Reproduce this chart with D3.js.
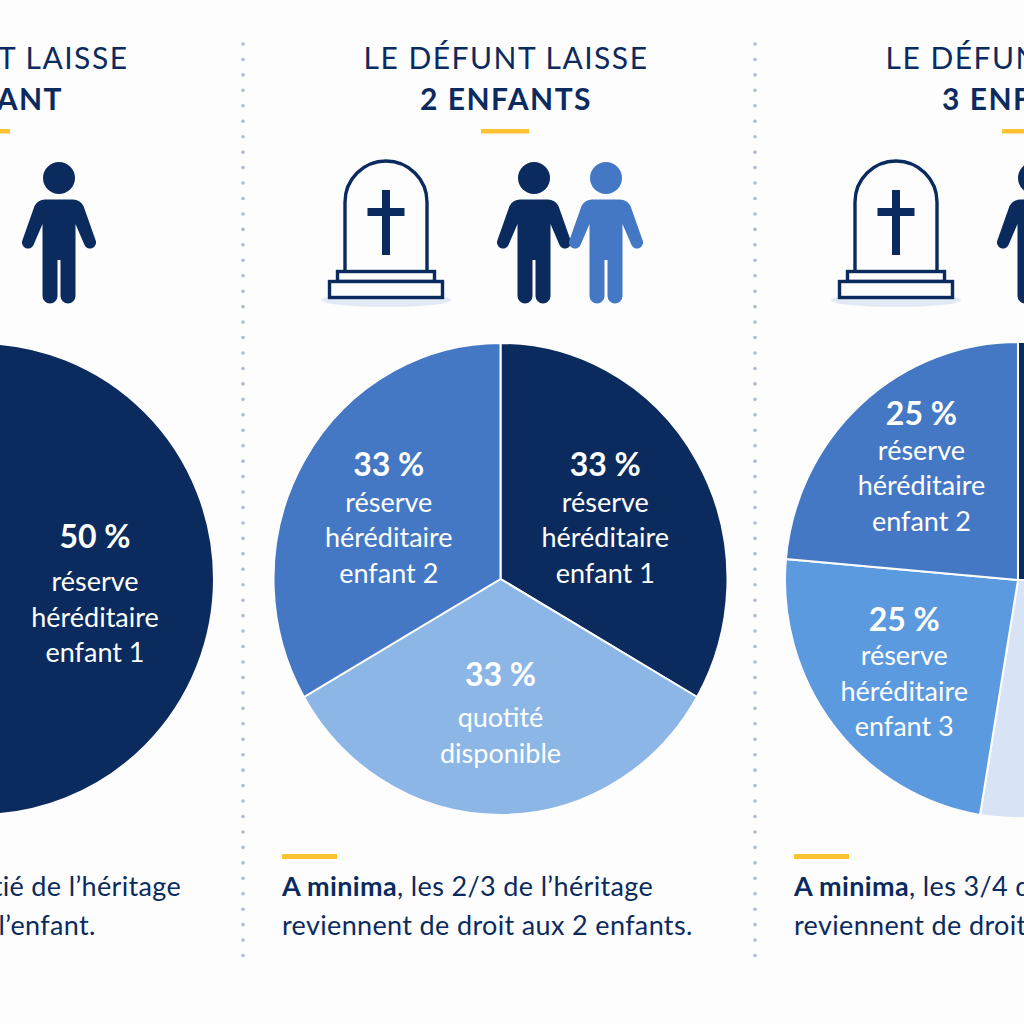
<!DOCTYPE html>
<html>
<head>
<meta charset="utf-8">
<script src="https://cdn.jsdelivr.net/npm/d3@7"></script>
<style>
  html, body { margin: 0; padding: 0; background: #fdfdfe; overflow: hidden; }
  svg { display: block; }
  text { font-family: Lato, "Open Sans", sans-serif; }
</style>
</head>
<body>
<script>
// Values
var title_top = ['LE DÉFUNT LAISSE', 'LE DÉFUNT LAISSE', 'LE DÉFUNT LAISSE'];
var title_bottom = ['1 ENFANT', '2 ENFANTS', '3 ENFANTS'];

// Slice sizes as drawn (the third pie is not cut in exact quarters)
var shares_1 = [50, 50];
var shares_2 = [33, 33, 33];
var shares_3 = [25, 27.6, 23.8, 23.6];

var percents_1 = ['50 %', '50 %'];
var percents_2 = ['33 %', '33 %', '33 %'];
var percents_3 = ['25 %', '25 %', '25 %', '25 %'];

var captions_1 = ['réserve|héréditaire|enfant 1', 'quotité|disponible'];
var captions_2 = ['réserve|héréditaire|enfant 1', 'quotité|disponible', 'réserve|héréditaire|enfant 2'];
var captions_3 = ['réserve|héréditaire|enfant 1', 'quotité|disponible', 'réserve|héréditaire|enfant 3', 'réserve|héréditaire|enfant 2'];

var colors_1 = ['#0b2b5e', '#8cb6e6'];
var colors_2 = ['#0b2b5e', '#8cb6e6', '#4478c4'];
var colors_3 = ['#0b2b5e', '#d8e4f5', '#5b9adf', '#4478c4'];

var footer_bold = 'A minima';
var footer_rest = [', la moitié de l’héritage', ', les 2/3 de l’héritage', ', les 3/4 de l’héritage'];
var footer_second = ['revient de droit à l’enfant.', 'reviennent de droit aux 2 enfants.', 'reviennent de droit aux 3 enfants.'];

// Layout of the three columns
var svg_size = 1024;
var navy = '#0b2b5e';
var yellow = '#fbc232';
var pies = [
  { cx: -21, cy: 579, rx: 235, ry: 236, label_r: [116, 116], shift: [12, 0], gap: [7, 5] },
  { cx: 500.5, cy: 579, rx: 227, ry: 236, label_r: [121, 135, 129], shift: [0, 0, 4], gap: [0, 5, 0] },
  { cx: 1018, cy: 580, rx: 233, ry: 238, label_r: [150, 150, 144, 143], shift: [0, 0, 6, -6.5], gap: [0, 5, -2, -1.5] }
];
var title_x = [-14, 506, 1028];
var rule_x = [-38, 481, 1002];
var footer_x = [-209, 282, 794];
var footer_second_x = [-217, 282, 794];
var tomb_x = [-136, 386, 896];
var people_x = [[59], [534, 606], [1034, 1106]];
var people_colors = [[navy], [navy, '#4478c4'], [navy, '#4478c4']];
var divider_x = [243, 755];

var svg = d3.select('body').append('svg')
  .attr('width', svg_size)
  .attr('height', svg_size);

svg.append('rect')
  .attr('width', svg_size)
  .attr('height', svg_size)
  .attr('fill', '#fdfdfe');

// Dotted column dividers
divider_x.forEach(function(x) {
  svg.selectAll(null)
    .data(d3.range(44, 965, 15.45))
    .enter()
    .append('circle')
    .attr('cx', x)
    .attr('cy', function(d) { return d; })
    .attr('r', 1.8)
    .attr('fill', '#aebbd6');
});

// Person silhouette, drawn around x = 0 with the head centre at y = 0
var person_path = 'M0,21.5 L14,21.5 Q21,21.5 24.5,28 L36.5,62 A6,6 0 0 1 25.5,67 L16.5,46 L16.5,118 ' +
  'A7.5,7.5 0 0 1 1.5,118 L1.5,82 L-1.5,82 L-1.5,118 A7.5,7.5 0 0 1 -16.5,118 L-16.5,46 L-25.5,67 ' +
  'A6,6 0 0 1 -36.5,62 L-24.5,28 Q-21,21.5 -14,21.5 Z';

function drawPerson(x, color) {
  var g = svg.append('g').attr('transform', 'translate(' + x + ',178)');
  g.append('circle').attr('r', 16).attr('fill', color);
  g.append('path').attr('d', person_path).attr('fill', color);
}

// Gravestone with a cross, drawn around x = 0
function drawTomb(x) {
  var g = svg.append('g').attr('transform', 'translate(' + x + ',0)');
  g.append('ellipse').attr('cy', 300).attr('rx', 65).attr('ry', 7).attr('fill', '#e3eaf6');
  g.append('path')
    .attr('d', 'M-41,271 L-41,202 A41,41 0 0 1 41,202 L41,271')
    .attr('fill', '#fdfdfe').attr('stroke', navy).attr('stroke-width', 3.4);
  g.append('rect').attr('x', -48.5).attr('y', 271.5).attr('width', 97).attr('height', 10)
    .attr('fill', '#fdfdfe').attr('stroke', navy).attr('stroke-width', 3.4);
  g.append('rect').attr('x', -56.5).attr('y', 281.5).attr('width', 113).attr('height', 16)
    .attr('fill', '#fdfdfe').attr('stroke', navy).attr('stroke-width', 3.4);
  g.append('rect').attr('x', -4).attr('y', 190).attr('width', 8).attr('height', 65).attr('fill', navy);
  g.append('rect').attr('x', -18.5).attr('y', 208).attr('width', 37).attr('height', 8).attr('fill', navy);
}

// One pie with its labels
function drawPie(index, shares, percents, captions, colors) {
  var p = pies[index];
  var pie = d3.pie().sort(null).value(function(d) { return d; });
  var arc = d3.arc().innerRadius(0).outerRadius(1);
  var slices = pie(shares);

  var g = svg.append('g')
    .attr('transform', 'translate(' + p.cx + ',' + p.cy + ') scale(' + p.rx + ',' + p.ry + ')');
  g.selectAll('path')
    .data(slices)
    .enter()
    .append('path')
    .attr('d', arc)
    .attr('fill', function(d, i) { return colors[i]; })
    .attr('stroke', '#fdfdfe')
    .attr('stroke-width', 2)
    .attr('vector-effect', 'non-scaling-stroke');

  slices.forEach(function(s, i) {
    var mid = (s.startAngle + s.endAngle) / 2;
    var x = p.cx + p.label_r[i] * Math.sin(mid);
    var y = p.cy - p.label_r[i] * Math.cos(mid) + p.shift[i];
    var lines = captions[i].split('|');
    // Block of text centred on the slice anchor point
    var top = y - (lines.length == 3 ? 54 : 39);

    svg.append('text')
      .attr('x', x)
      .attr('y', top + 11)
      .attr('text-anchor', 'middle')
      .attr('fill', '#fff')
      .attr('font-size', 32)
      .attr('font-weight', 700)
      .text(percents[i]);

    lines.forEach(function(line, j) {
      svg.append('text')
        .attr('x', x)
        .attr('y', top + 47 + p.gap[i] + j * 35.5)
        .attr('text-anchor', 'middle')
        .attr('fill', '#fff')
        .attr('font-size', 27)
        .text(line);
    });
  });
}

drawPie(0, shares_1, percents_1, captions_1, colors_1);
drawPie(1, shares_2, percents_2, captions_2, colors_2);
drawPie(2, shares_3, percents_3, captions_3, colors_3);

// Titles, yellow rules, icons and footers
title_x.forEach(function(x, i) {
  svg.append('text')
    .attr('x', x).attr('y', 69)
    .attr('text-anchor', 'middle')
    .attr('fill', navy)
    .attr('font-size', 30)
    .attr('letter-spacing', 1.5)
    .text(title_top[i]);
  svg.append('text')
    .attr('x', x).attr('y', 110)
    .attr('text-anchor', 'middle')
    .attr('fill', navy)
    .attr('font-size', 30)
    .attr('font-weight', 700)
    .attr('letter-spacing', 1.5)
    .text(title_bottom[i]);

  svg.append('rect')
    .attr('x', rule_x[i]).attr('y', 129)
    .attr('width', 48).attr('height', 4.5)
    .attr('fill', yellow);

  drawTomb(tomb_x[i]);
  people_x[i].forEach(function(px, j) {
    drawPerson(px, people_colors[i][j]);
  });

  svg.append('rect')
    .attr('x', footer_x[i]).attr('y', 854)
    .attr('width', 55).attr('height', 5)
    .attr('fill', yellow);

  var line1 = svg.append('text')
    .attr('x', footer_x[i]).attr('y', 896)
    .attr('fill', navy)
    .attr('font-size', 27)
    .attr('letter-spacing', 0.35);
  line1.append('tspan').attr('font-weight', 700).text(footer_bold);
  line1.append('tspan').text(footer_rest[i]);

  svg.append('text')
    .attr('x', footer_second_x[i]).attr('y', 935)
    .attr('fill', navy)
    .attr('font-size', 27)
    .attr('letter-spacing', 0.35)
    .text(footer_second[i]);
});
</script>
</body>
</html>
